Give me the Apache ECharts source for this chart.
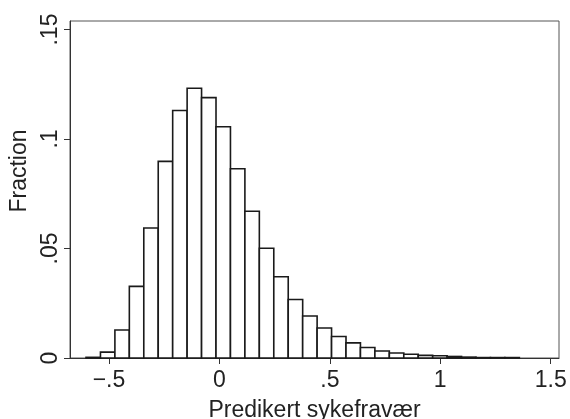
<!DOCTYPE html>
<html>
<head>
<meta charset="utf-8">
<script src="https://cdn.jsdelivr.net/npm/echarts@6/dist/echarts.min.js"></script>
<style>html,body{margin:0;padding:0;background:#fff;}#c{width:570px;height:419px;}</style>
</head>
<body>
<div id="c"></div>
<script>
// Histogram definition
var binStart = -0.604;
var binWidth = 0.0654;
var fractions = [0.0003, 0.0027, 0.0128, 0.0327, 0.0594, 0.0898, 0.1130, 0.1232, 0.1189, 0.1056,
                 0.0864, 0.0670, 0.0501, 0.0371, 0.0267, 0.0192, 0.0137, 0.0098, 0.0069, 0.0048,
                 0.0032, 0.0023, 0.0017, 0.0012, 0.0010, 0.0007, 0.0004, 0.0002, 0.0002, 0.0002];
var xTickValues = [-0.5, 0, 0.5, 1, 1.5];
var xTickLabels = ['\u2212.5', '0', '.5', '1', '1.5'];
var yTickValues = [0, 0.05, 0.1, 0.15];
var yTickLabels = ['0', '.05', '.1', '.15'];
var xTitle = 'Predikert sykefravær';
var yTitle = 'Fraction';

var histData = fractions.map(function (f, i) {
  var x0 = binStart + i * binWidth;
  return [x0, x0 + binWidth, f];
});

function lookup(vals, labels, v) {
  for (var i = 0; i < vals.length; i++) {
    if (Math.abs(vals[i] - v) < 1e-9) return labels[i];
  }
  return '';
}

var font = 'Liberation Sans';
var chart = echarts.init(document.getElementById('c'), null, {renderer: 'canvas'});
chart.setOption({
  backgroundColor: '#fff',
  animation: false,
  grid: {left: 70, right: 11, top: 21, bottom: 61, show: true, borderColor: '#555', borderWidth: 1,
         backgroundColor: 'transparent', containLabel: false, outerBoundsMode: 'none'},
  xAxis: {
    type: 'value', min: -0.6765, max: 1.5376,
    splitLine: {show: false},
    axisLine: {show: true, onZero: false, lineStyle: {color: '#333', width: 1}},
    axisTick: {show: true, length: 6, lineStyle: {color: '#333'}, customValues: xTickValues},
    axisLabel: {show: true, margin: 11, color: '#222', fontFamily: font, fontSize: 23,
      customValues: xTickValues,
      formatter: function (v) { return lookup(xTickValues, xTickLabels, v); }},
    name: xTitle, nameLocation: 'middle', nameGap: 41,
    nameTextStyle: {color: '#222', fontFamily: font, fontSize: 23}
  },
  yAxis: {
    type: 'value', min: 0, max: 0.1539,
    splitLine: {show: false},
    axisLine: {show: true, onZero: false, lineStyle: {color: '#333', width: 1}},
    axisTick: {show: true, length: 6, lineStyle: {color: '#333'}, customValues: yTickValues},
    axisLabel: {show: true, rotate: 90, margin: 8, color: '#222', fontFamily: font, fontSize: 23,
      customValues: yTickValues,
      formatter: function (v) { return lookup(yTickValues, yTickLabels, v); }},
    name: yTitle, nameLocation: 'middle', nameGap: 34, nameRotate: 90,
    nameTextStyle: {color: '#222', fontFamily: font, fontSize: 23, padding: [0, 0, 0, 37]}
  },
  series: [{
    type: 'custom',
    data: histData,
    encode: {x: [0, 1], y: 2},
    renderItem: function (params, api) {
      var p0 = api.coord([api.value(0), api.value(2)]);
      var p1 = api.coord([api.value(1), 0]);
      return {
        type: 'rect',
        shape: {x: p0[0], y: p0[1], width: p1[0] - p0[0], height: p1[1] - p0[1]},
        style: {fill: '#fff', stroke: '#1a1a1a', lineWidth: 1.6}
      };
    }
  }]
});
</script>
</body>
</html>
